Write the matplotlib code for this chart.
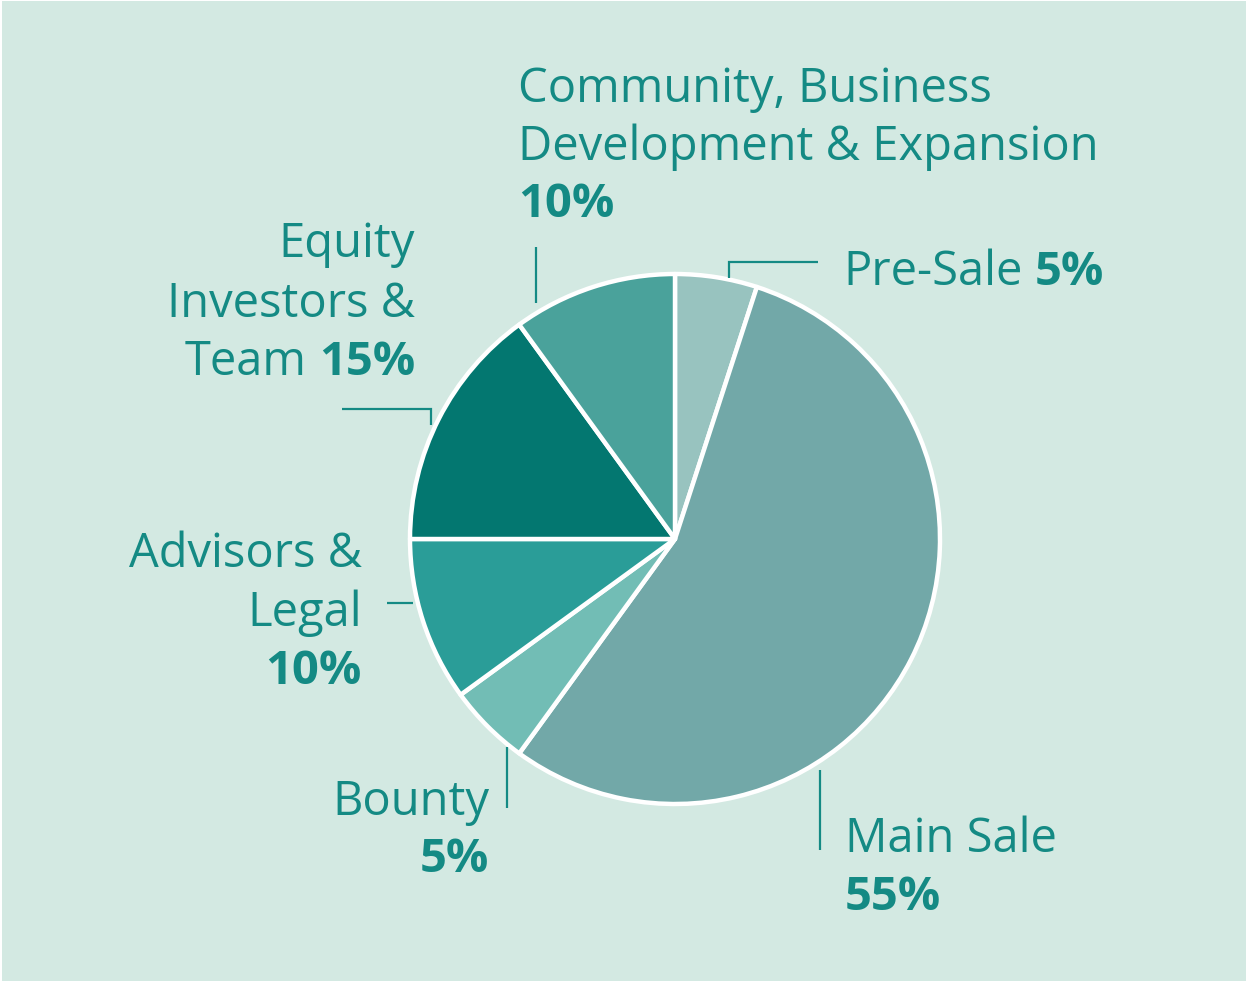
import matplotlib
matplotlib.use("Agg")
import matplotlib.pyplot as plt
from matplotlib.patches import Rectangle

# ---- data ----
categories = ["Pre-Sale", "Main Sale", "Bounty", "Advisors & Legal",
              "Equity Investors & Team", "Community, Business Development & Expansion"]
shares = [5, 55, 5, 10, 15, 10]
colors = ["#98c3bf", "#72a8a8", "#72bdb5", "#2a9d98", "#037770", "#4aa29b"]
# label line breaks (text only); the percentage is appended in bold
label_lines = [
    ["Pre-Sale"],
    ["Main Sale", ""],
    ["Bounty", ""],
    ["Advisors &", "Legal", ""],
    ["Equity", "Investors &", "Team"],
    ["Community, Business", "Development & Expansion", ""],
]

W, H = 1248, 983
BG = "#d3e9e2"
TXT = "#148a84"
FONT = "Open Sans"
FS = 33.9

fig = plt.figure(figsize=(W / 100, H / 100), dpi=100)
fig.patch.set_facecolor("white")
ax = fig.add_axes([0, 0, 1, 1])
ax.add_patch(Rectangle((2, 2), W - 4, H - 3, facecolor=BG, edgecolor="none", zorder=0))

ax.pie(shares, colors=colors, startangle=90, counterclock=False,
       center=(675, H - 539), radius=265,
       wedgeprops=dict(edgecolor="white", linewidth=3.2, joinstyle="round"))
ax.set_xlim(0, W)
ax.set_ylim(0, H)
ax.set_aspect("auto")
ax.axis("off")

renderer = fig.canvas.get_renderer()


def measure(s, weight):
    t = ax.text(0, 0, s, fontsize=FS, family=FONT, fontweight=weight)
    w = t.get_window_extent(renderer).width
    t.remove()
    return w


space_w = measure("x x", "normal") - measure("xx", "normal")


def draw_line(x, base_py, segments, align="left"):
    segs = [(s, w) for s, w in segments if s]
    widths = [measure(s, w) for s, w in segs]
    total = sum(widths) + space_w * (len(segs) - 1)
    cx = x if align == "left" else x - total
    for (s, w), wd in zip(segs, widths):
        ax.text(cx, H - base_py, s, fontsize=FS, family=FONT, fontweight=w,
                color=TXT, ha="left", va="baseline")
        cx += wd + space_w


# layout per category: (x, baselines, align)
layout = [
    (843, [285], "left"),
    (845, [852, 910], "left"),
    (489, [815, 872], "right"),
    (362, [567, 626, 684], "right"),
    (415, [257, 317, 375], "right"),
    (518, [102, 160, 217], "left"),
]

for lines, share, (x, bases, align) in zip(label_lines, shares, layout):
    for i, (line, b) in enumerate(zip(lines, bases)):
        segs = [(line, "normal")]
        if i == len(lines) - 1:
            segs.append((f"{share}%", "bold"))
        draw_line(x, b, segs, align)

leaders = [
    [(729, 278), (729, 262), (818, 262)],
    [(820, 770), (820, 850)],
    [(507, 747), (507, 808)],
    [(387, 603), (413, 603)],
    [(342, 409), (431, 409), (431, 425)],
    [(536, 247), (536, 303)],
]
for pts in leaders:
    xs = [p[0] for p in pts]
    ys = [H - p[1] for p in pts]
    ax.plot(xs, ys, color=TXT, lw=1.6, solid_joinstyle="miter", solid_capstyle="butt")

fig.savefig("out.png", dpi=100, facecolor=fig.get_facecolor())
